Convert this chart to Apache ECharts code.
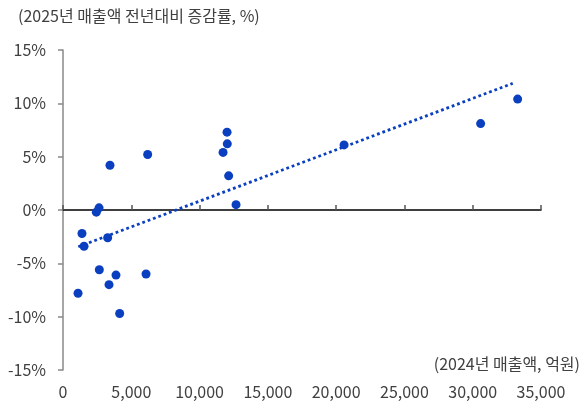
<!DOCTYPE html>
<html><head><meta charset="utf-8">
<script src="https://cdn.jsdelivr.net/npm/echarts@6/dist/echarts.min.js"></script>
<style>html,body{margin:0;padding:0;background:#fff}#c{width:583px;height:403px}</style>
</head><body><div id="c"></div>
<script>
// 2024 sales (억원)
var sales2024 = [1100, 1390, 1540, 2440, 2640, 2660, 3270, 3440, 3370, 3880, 4150, 6080, 6200, 11720, 12010, 12030, 12130, 12670, 20580, 30580, 33290];
// 2025 YoY growth (%)
var growth2025 = [-7.8, -2.2, -3.4, -0.2, 0.2, -5.6, -2.6, 4.2, -7.0, -6.1, -9.7, -6.0, 5.2, 5.4, 7.3, 6.2, 3.2, 0.5, 6.1, 8.1, 10.4];
// trendline endpoints
var trendX = [1120, 32930];
var trendY = [-3.45, 11.87];
var xTicks = [0, 5000, 10000, 15000, 20000, 25000, 30000, 35000];
var yTicks = [-15, -10, -5, 0, 5, 10, 15];

var font = '"Noto Sans CJK KR", "Noto Sans", sans-serif';
var txt = '#404040';
var pts = sales2024.map(function(v, i){ return [v, growth2025[i]]; });
var trend = trendX.map(function(v, i){ return [v, trendY[i]]; });

var chart = echarts.init(document.getElementById('c'));
chart.setOption({
  animation: false,
  grid: {left: 63, right: 42, top: 50, bottom: 33, containLabel: false},
  xAxis: [{
    type: 'value', min: xTicks[0], max: xTicks[xTicks.length-1], interval: 5000,
    position: 'bottom',
    axisLine: {show: false, onZero: false},
    axisTick: {show: false},
    splitLine: {show: false},
    axisLabel: {color: txt, fontSize: 16, fontFamily: font, margin: 14,
      formatter: function(v){ return v.toLocaleString('en-US'); }}
  }, {
    type: 'value', min: xTicks[0], max: xTicks[xTicks.length-1], interval: 5000,
    position: 'top',
    axisLine: {show: true, onZero: true, lineStyle: {color: '#000', width: 1.5}},
    axisTick: {show: true, inside: false, length: 5, lineStyle: {color: '#555', width: 1.5}},
    splitLine: {show: false},
    axisLabel: {show: false}
  }],
  yAxis: {
    type: 'value', min: yTicks[0], max: yTicks[yTicks.length-1], interval: 5,
    axisLine: {show: true, onZero: false, lineStyle: {color: '#888', width: 1.5}},
    axisTick: {show: true, length: 5, lineStyle: {color: '#888', width: 1.5}},
    splitLine: {show: false},
    axisLabel: {color: txt, fontSize: 16, fontFamily: font, margin: 17,
      formatter: function(v){ return v + '%'; }}
  },
  graphic: [
    {type: 'text', left: 18, top: 8, style: {text: '(2025년 매출액 전년대비 증감률, %)', fill: txt, font: '16px ' + font}},
    {type: 'text', right: 3, top: 356, style: {text: '(2024년 매출액, 억원)', fill: txt, font: '16px ' + font}}
  ],
  series: [{
    type: 'line', data: trend, symbol: 'none', xAxisIndex: 0,
    lineStyle: {color: '#0a3fbf', width: 2.8, type: [2.8, 2.9]}, z: 2
  }, {
    type: 'scatter', data: pts, symbolSize: 9, xAxisIndex: 0,
    itemStyle: {color: '#0a3fbf', opacity: 1}, z: 3
  }]
});
</script></body></html>
